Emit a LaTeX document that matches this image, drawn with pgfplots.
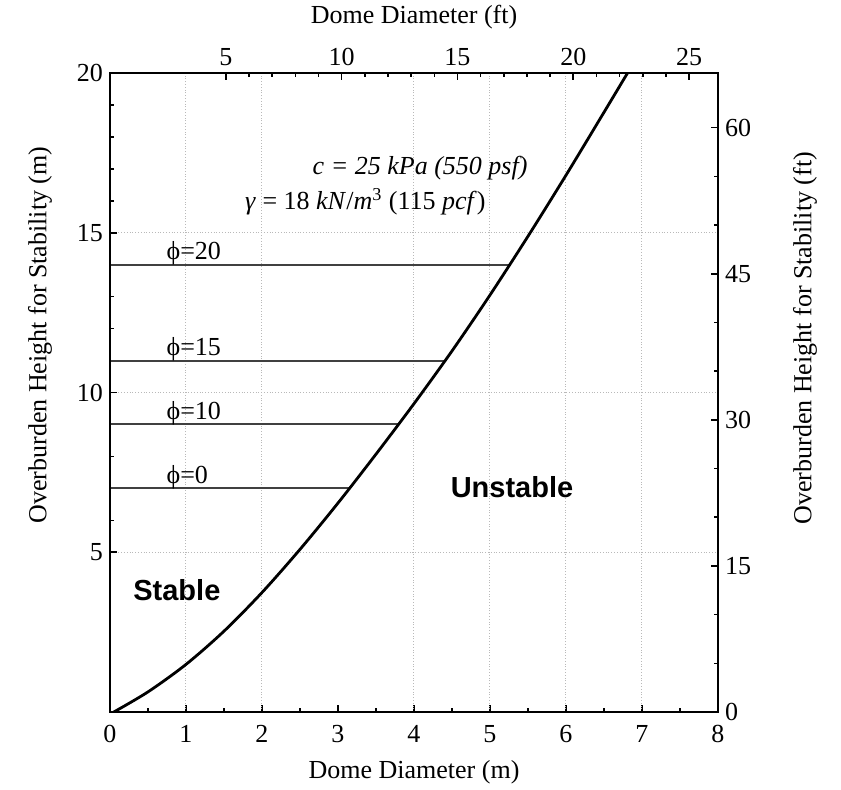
\documentclass[border=0pt]{standalone}
\usepackage{pgfplots}
\pgfplotsset{compat=1.18}
\usepackage{fontspec}
\setmainfont{Liberation Serif}
\newfontfamily\arial{Liberation Sans}
\newcommand{\fs}{\fontsize{13}{15}\selectfont}
\begin{document}
\begin{tikzpicture}
\pgfplotsset{
  common/.style={
    scale only axis, width=304pt, height=319.5pt,
    axis line style={line width=1.2pt},
    tick align=inside,
    major tick length=3.5pt, minor tick length=2pt,
    every tick/.style={black, line width=0.8pt},
    tick label style={font=\fs},
    label style={font=\fs},
    /pgf/number format/assume math mode=true,
  }
}
\begin{axis}[common,
  xmin=0, xmax=8, ymin=0, ymax=20,
  xtick={0,1,...,8}, ytick={5,10,15,20},
  minor x tick num=1, minor y tick num=4,
  xtick pos=bottom, ytick pos=left,
  ymajorgrids=true,
  extra x ticks={1,2,4,5,6,7}, extra x tick labels={},
  extra x tick style={xmajorgrids=true, major tick length=0pt},
  grid style={densely dotted, gray!55, line width=0.5pt},
  xticklabel style={yshift=-3pt},
  xlabel={Dome Diameter (m)},
  ylabel={Overburden Height for Stability (m)},
  xlabel style={at={(axis description cs:0.5,-0.094)}, anchor=center},
  ylabel style={at={(axis description cs:-0.115,0.59)}, anchor=center},
]
\addplot[line width=1pt, black!75] coordinates {(0,14) (5.26,14)};
\addplot[line width=1pt, black!75] coordinates {(0,11) (4.41,11)};
\addplot[line width=1pt, black!75] coordinates {(0,9) (3.79,9)};
\addplot[line width=1pt, black!75] coordinates {(0,7) (3.15,7)};
\addplot[smooth, line width=1.4pt, black] coordinates {
  (0.05,0) (0.5,0.63) (1,1.49) (1.5,2.53) (2,3.74) (2.5,5.09) (3,6.54)
  (3.5,8.07) (4,9.65) (4.5,11.3) (5,13.05) (5.5,14.89) (6,16.8)
  (6.5,18.77) (6.82,20.04)};
\node[anchor=base west, font=\fs, inner sep=0pt] at (axis cs:0.74,14.15) {ϕ=20};
\node[anchor=base west, font=\fs, inner sep=0pt] at (axis cs:0.74,11.15) {ϕ=15};
\node[anchor=base west, font=\fs, inner sep=0pt] at (axis cs:0.74,9.15) {ϕ=10};
\node[anchor=base west, font=\fs, inner sep=0pt] at (axis cs:0.74,7.15) {ϕ=0};
\node[font=\fs\itshape] at (axis cs:4.08,17.03) {c = 25 kPa (550 psf)};
\node[font=\fs] at (axis cs:3.36,15.96) {\textit{γ} = 18 \textit{kN}/\textit{m}\textsuperscript{3} (115 \textit{pcf})};
\node[font={\arial\bfseries\fontsize{14.5}{16}\selectfont}] at (axis cs:5.29,7.05) {Unstable};
\node[font={\arial\bfseries\fontsize{14.5}{16}\selectfont}] at (axis cs:0.88,3.8) {Stable};
\end{axis}
\begin{axis}[common,
  xmin=0, xmax=26.2467, ymin=0, ymax=65.6168,
  xtick={5,10,15,20,25}, ytick={0,15,30,45,60},
  minor x tick num=4, minor y tick num=2,
  xtick pos=top, ytick pos=right,
  xticklabel pos=top, yticklabel pos=right,
  xlabel={Dome Diameter (ft)},
  ylabel={Overburden Height for Stability (ft)},
  xlabel style={at={(axis description cs:0.5,1.088)}, anchor=center},
  ylabel style={at={(axis description cs:1.143,0.585)}, anchor=center, rotate=0},
]
\end{axis}
\pgfresetboundingbox
\path[use as bounding box] ([xshift=-55pt,yshift=-38.5pt]current axis.south west) rectangle ([xshift=61.5pt,yshift=36.5pt]current axis.north east);
\end{tikzpicture}
\end{document}
